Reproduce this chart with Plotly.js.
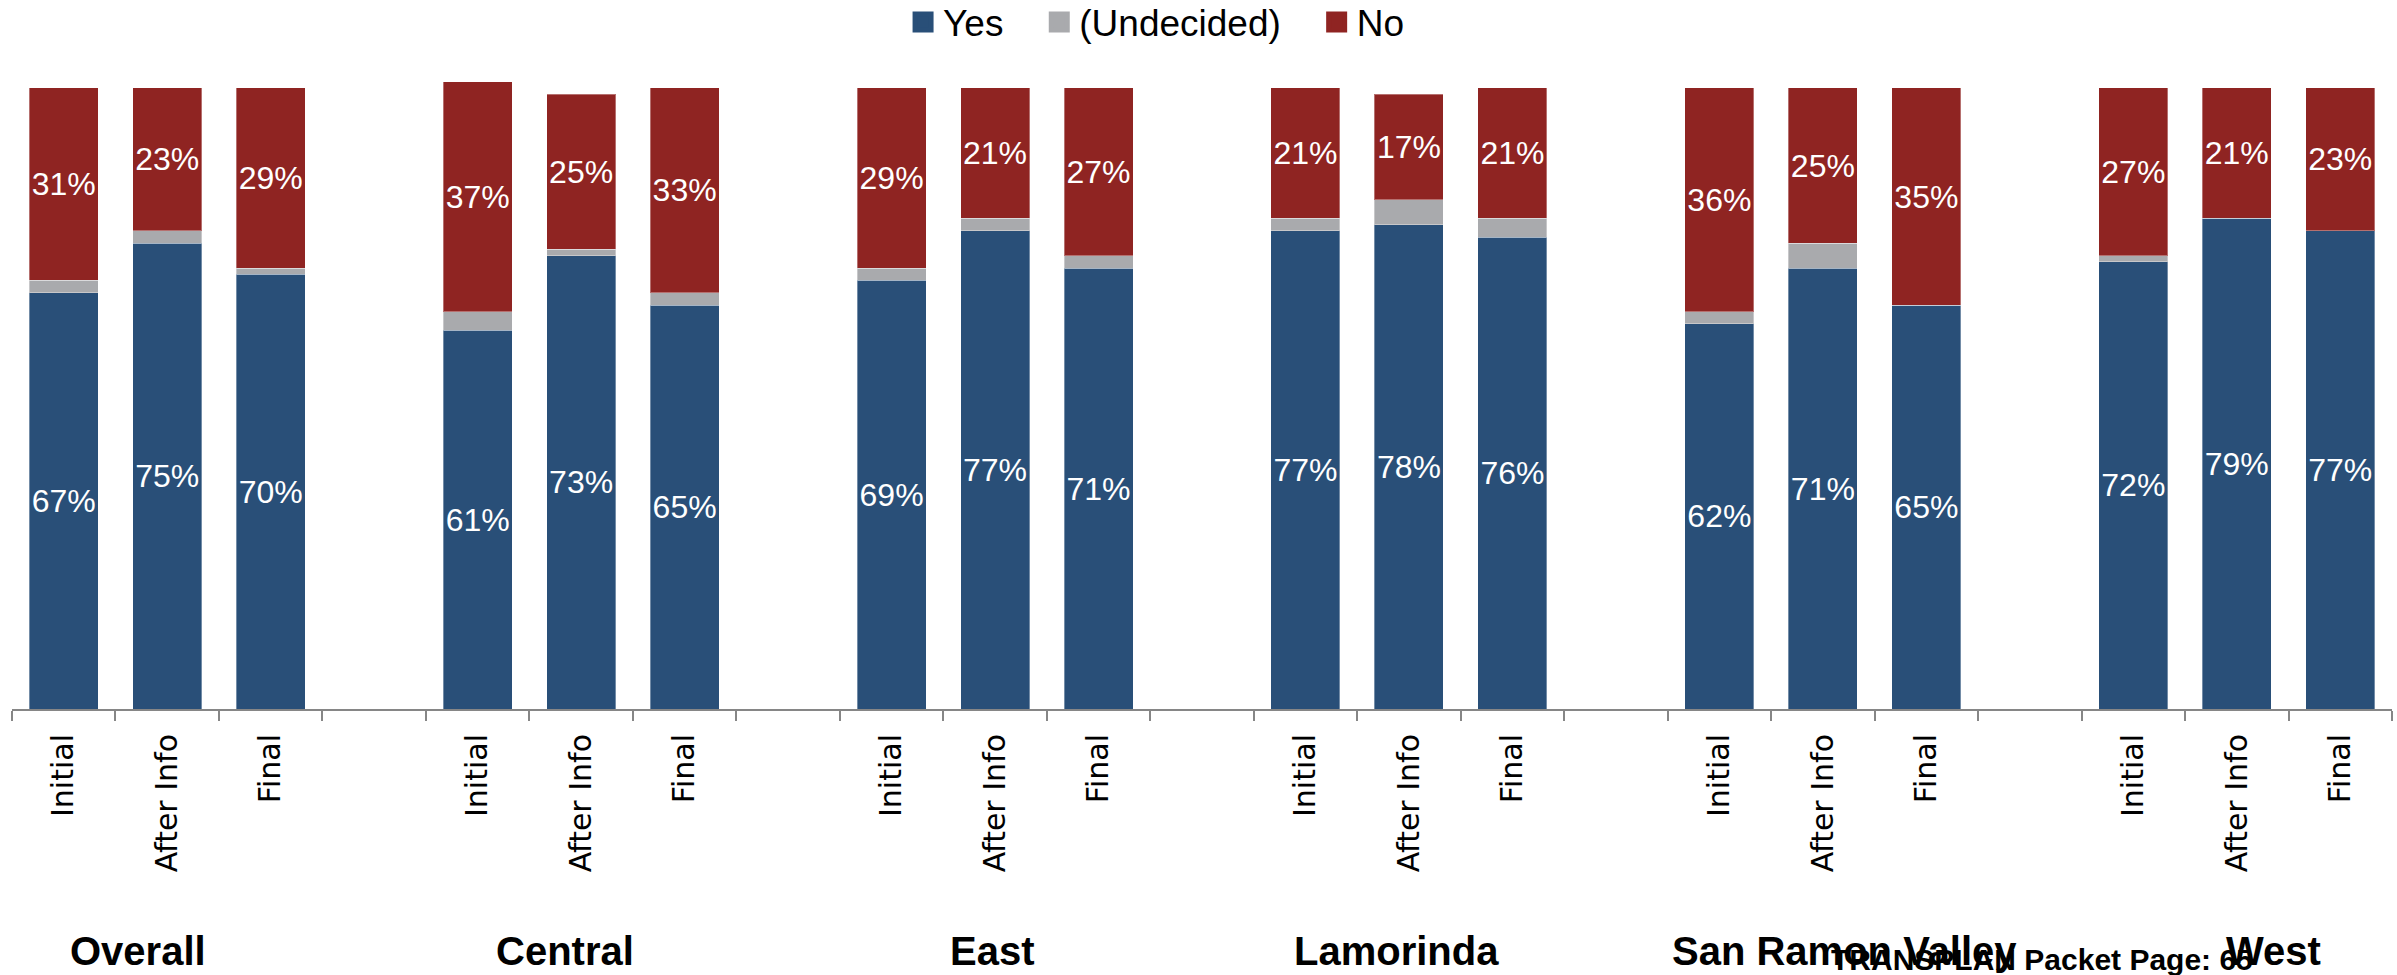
<!DOCTYPE html>
<html>
<head>
<meta charset="utf-8">
<script src="https://cdn.plot.ly/plotly-3.0.1.min.js"></script>
<style>
  html, body { margin: 0; padding: 0; background: #ffffff; }
  #chart { width: 2397px; height: 975px; }
</style>
</head>
<body>
<div id="chart"></div>
<script>
// Support for the measure, by region and by survey stage (percent of voters)
const groups = ['Overall', 'Central', 'East', 'Lamorinda', 'San Ramon Valley', 'West'];
const stages = ['Initial', 'After Info', 'Final'];

// one value per bar: groups in order, stages in order within each group
const yesPct = [67, 75, 70,  61, 73, 65,  69, 77, 71,  77, 78, 76,  62, 71, 65,  72, 79, 77];
const undecidedPct = [2, 2, 1,  3, 1, 2,  2, 2, 2,  2, 4, 3,  2, 4, 0,  1, 0, 0];
const noPct = [31, 23, 29,  37, 25, 33,  29, 21, 27,  21, 17, 21,  36, 25, 35,  27, 21, 23];

const footerNote = 'TRANSPLAN Packet Page: 65';

// ---- layout helpers ----
const slotsPerGroup = stages.length + 1;          // one empty slot between groups
const slotCount = groups.length * slotsPerGroup - 1;
const xPos = [];
const tickText = [];
groups.forEach((g, gi) => {
  stages.forEach((s, si) => {
    xPos.push(gi * slotsPerGroup + si);
    tickText.push(s);
  });
});
const boundaries = [];
for (let i = 0; i <= slotCount; i++) boundaries.push(i - 0.5);

// horizontal nudge (px) of each group caption relative to its middle bar
const groupLabelShift = [-29, -16, -3, -12, 22, 37];

const COLORS = { yes: '#294f78', undecided: '#a9aaad', no: '#8f2422' };
const SANS = 'Liberation Sans, Arial, sans-serif';
const NBSP = '\u00a0';

function barTrace(name, values, color, withText) {
  return {
    type: 'bar',
    name: name,
    legendgroup: name,
    showlegend: false,
    x: xPos,
    y: values,
    marker: { color: color, line: { color: 'rgba(255,255,255,0.35)', width: 1 } },
    text: withText ? values.map(v => v + '%') : undefined,
    textposition: withText ? 'inside' : 'none',
    insidetextanchor: 'middle',
    textangle: 0,
    constraintext: 'none',
    textfont: { family: SANS, size: 32, color: '#ffffff' },
    hoverinfo: 'skip'
  };
}

// legend keys: large square swatches; trailing spaces widen the gap to the next key
function legendKey(name, color, pad) {
  return {
    type: 'scatter',
    mode: 'markers',
    name: name + NBSP.repeat(pad),
    legendgroup: name,
    x: [null],
    y: [null],
    marker: { symbol: 'square', size: 16, color: color, line: { color: color, width: 5 } },
    hoverinfo: 'skip'
  };
}

const data = [
  barTrace('Yes', yesPct, COLORS.yes, true),
  barTrace('(Undecided)', undecidedPct, COLORS.undecided, false),
  barTrace('No', noPct, COLORS.no, true),
  legendKey('Yes', COLORS.yes, 3),
  legendKey('(Undecided)', COLORS.undecided, 3),
  legendKey('No', COLORS.no, 0)
];

const annotations = groups.map((g, gi) => ({
  text: '<b>' + g + '</b>',
  xref: 'x', yref: 'paper',
  x: gi * slotsPerGroup + 1,
  y: -0.373,
  xshift: groupLabelShift[gi],
  xanchor: 'center', yanchor: 'middle',
  showarrow: false,
  font: { family: SANS, size: 40, color: '#000000' }
}));
annotations.push({
  text: '<b>' + footerNote + '</b>',
  xref: 'paper', yref: 'paper',
  x: 0.853, y: -0.386,
  xanchor: 'center', yanchor: 'middle',
  showarrow: false,
  font: { family: SANS, size: 30, color: '#000000' }
});

const layout = {
  width: 2397,
  height: 975,
  paper_bgcolor: '#ffffff',
  plot_bgcolor: '#ffffff',
  margin: { l: 12, r: 5, t: 60, b: 266, autoexpand: false },
  barmode: 'stack',
  bargap: 0.333,
  showlegend: true,
  legend: {
    orientation: 'h',
    xref: 'paper', yref: 'container',
    x: 0.4807, xanchor: 'center',
    y: 0.977, yanchor: 'middle',
    font: { family: SANS, size: 37, color: '#000000' },
    traceorder: 'normal',
    itemsizing: 'trace',
    itemclick: false
  },
  uniformtext: { mode: 'show', minsize: 32 },
  xaxis: {
    range: [-0.5, slotCount - 0.5],
    tickmode: 'array',
    tickvals: xPos,
    ticktext: tickText,
    tickangle: -90,
    ticks: '',
    ticklabelstandoff: 11,
    tickfont: { family: 'DejaVu Sans, sans-serif', size: 30, color: '#000000' },
    showline: true,
    linecolor: '#868686',
    linewidth: 2,
    showgrid: false,
    zeroline: false,
    fixedrange: true,
    minor: {
      tickmode: 'array',
      tickvals: boundaries,
      ticks: 'outside',
      ticklen: 10,
      tickwidth: 2,
      tickcolor: '#868686',
      showgrid: false
    }
  },
  yaxis: {
    range: [0, 104.5],
    visible: false,
    showgrid: false,
    zeroline: false,
    fixedrange: true
  },
  annotations: annotations
};

Plotly.newPlot('chart', data, layout, { displayModeBar: false, staticPlot: true });
</script>
</body>
</html>
